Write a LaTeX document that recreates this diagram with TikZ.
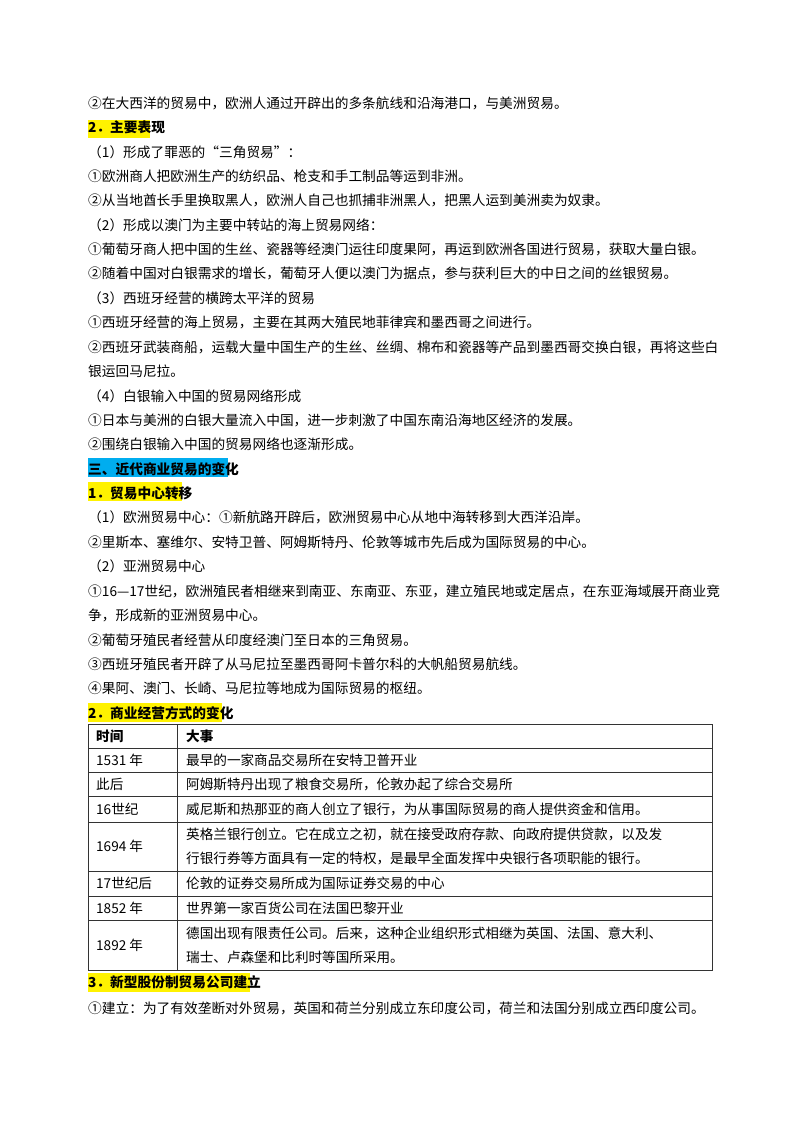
\documentclass[tikz,border=0pt]{standalone}
\usepackage{fontspec}
\setmainfont{Noto Sans CJK SC}
\begin{document}
\begin{tikzpicture}[x=1pt,y=-1pt,
  ln/.style={anchor=west,inner sep=0pt,font=\fontsize{13.7}{16}\selectfont},
  hd/.style={ln,font=\fontsize{13.7}{16}\selectfont\bfseries},
  cell/.style={anchor=west,inner sep=0pt,font=\fontsize{13.6}{24}\selectfont,align=left},
  tl/.style={draw=black!80,line width=0.7pt}]
\useasboundingbox (0,0) rectangle (800,1132);
\def\L#1{\fpeval{103+24.4*#1}}
% highlight boxes
\fill[yellow] (88,120) rectangle (150,138);
\fill[cyan] (88,458) rectangle (228,477);
\fill[yellow] (88,482) rectangle (182,501);
\fill[yellow] (88,703) rectangle (222,722);
\fill[yellow] (88,973) rectangle (250,992);
\node[ln] (t0) at (88,{\L{0}}) {②在大西洋的贸易中，欧洲人通过开辟出的多条航线和沿海港口，与美洲贸易。};
\node[hd] (t1) at (88,{\L{1}}) {2．主要表现};
\node[ln] (t2) at (88,{\L{2}}) {（1）形成了罪恶的“三角贸易”：};
\node[ln] (t3) at (88,{\L{3}}) {①欧洲商人把欧洲生产的纺织品、枪支和手工制品等运到非洲。};
\node[ln] (t4) at (88,{\L{4}}) {②从当地酋长手里换取黑人，欧洲人自己也抓捕非洲黑人，把黑人运到美洲卖为奴隶。};
\node[ln] (t5) at (88,{\L{5}}) {（2）形成以澳门为主要中转站的海上贸易网络：};
\node[ln] (t6) at (88,{\L{6}}) {①葡萄牙商人把中国的生丝、瓷器等经澳门运往印度果阿，再运到欧洲各国进行贸易，获取大量白银。};
\node[ln] (t7) at (88,{\L{7}}) {②随着中国对白银需求的增长，葡萄牙人便以澳门为据点，参与获利巨大的中日之间的丝银贸易。};
\node[ln] (t8) at (88,{\L{8}}) {（3）西班牙经营的横跨太平洋的贸易};
\node[ln] (t9) at (88,{\L{9}}) {①西班牙经营的海上贸易，主要在其两大殖民地菲律宾和墨西哥之间进行。};
\node[ln] (t10) at (88,{\L{10}}) {②西班牙武装商船，运载大量中国生产的生丝、丝绸、棉布和瓷器等产品到墨西哥交换白银，再将这些白};
\node[ln] (t11) at (88,{\L{11}}) {银运回马尼拉。};
\node[ln] (t12) at (88,{\L{12}}) {（4）白银输入中国的贸易网络形成};
\node[ln] (t13) at (88,{\L{13}}) {①日本与美洲的白银大量流入中国，进一步刺激了中国东南沿海地区经济的发展。};
\node[ln] (t14) at (88,{\L{14}}) {②围绕白银输入中国的贸易网络也逐渐形成。};
\node[hd] (t15) at (88,{\L{15}}) {三、近代商业贸易的变化};
\node[hd] (t16) at (88,{\L{16}}) {1．贸易中心转移};
\node[ln] (t17) at (88,{\L{17}}) {（1）欧洲贸易中心：①新航路开辟后，欧洲贸易中心从地中海转移到大西洋沿岸。};
\node[ln] (t18) at (88,{\L{18}}) {②里斯本、塞维尔、安特卫普、阿姆斯特丹、伦敦等城市先后成为国际贸易的中心。};
\node[ln] (t19) at (88,{\L{19}}) {（2）亚洲贸易中心};
\node[ln] (t20) at (88,{\L{20}}) {①16—17世纪，欧洲殖民者相继来到南亚、东南亚、东亚，建立殖民地或定居点，在东亚海域展开商业竞};
\node[ln] (t21) at (88,{\L{21}}) {争，形成新的亚洲贸易中心。};
\node[ln] (t22) at (88,{\L{22}}) {②葡萄牙殖民者经营从印度经澳门至日本的三角贸易。};
\node[ln] (t23) at (88,{\L{23}}) {③西班牙殖民者开辟了从马尼拉至墨西哥阿卡普尔科的大帆船贸易航线。};
\node[ln] (t24) at (88,{\L{24}}) {④果阿、澳门、长崎、马尼拉等地成为国际贸易的枢纽。};
\node[hd] (t25) at (88,{\L{25}}) {2．商业经营方式的变化};
% table
\draw[tl] (88,724) rectangle (712,970);
\draw[tl] (177,724) -- (177,970);
\foreach \y in {748,772,796,822,871,896,920} \draw[tl] (88,\y) -- (712,\y);
\node[cell,font=\fontsize{13.6}{24}\selectfont\bfseries] (h1) at (96,736) {时间};
\node[cell,font=\fontsize{13.6}{24}\selectfont\bfseries] (h2) at (186,736) {大事};
\node[cell] (a1) at (96,760) {1531 年};
\node[cell] (b1) at (186,760) {最早的一家商品交易所在安特卫普开业};
\node[cell] (a2) at (96,784) {此后};
\node[cell] (b2) at (186,784) {阿姆斯特丹出现了粮食交易所，伦敦办起了综合交易所};
\node[cell] (a3) at (96,809) {16世纪};
\node[cell] (b3) at (186,809) {威尼斯和热那亚的商人创立了银行，为从事国际贸易的商人提供资金和信用。};
\node[cell] (a4) at (96,846) {1694 年};
\node[cell] (b4) at (186,846) {英格兰银行创立。它在成立之初，就在接受政府存款、向政府提供贷款，以及发\\行银行券等方面具有一定的特权，是最早全面发挥中央银行各项职能的银行。};
\node[cell] (a5) at (96,883) {17世纪后};
\node[cell] (b5) at (186,883) {伦敦的证券交易所成为国际证券交易的中心};
\node[cell] (a6) at (96,908) {1852 年};
\node[cell] (b6) at (186,908) {世界第一家百货公司在法国巴黎开业};
\node[cell] (a7) at (96,945) {1892 年};
\node[cell] (b7) at (186,945) {德国出现有限责任公司。后来，这种企业组织形式相继为英国、法国、意大利、\\瑞士、卢森堡和比利时等国所采用。};
\node[hd] (t26) at (88,982) {3．新型股份制贸易公司建立};
\node[ln] (t27) at (88,1008) {①建立：为了有效垄断对外贸易，英国和荷兰分别成立东印度公司，荷兰和法国分别成立西印度公司。};
\end{tikzpicture}
\end{document}
